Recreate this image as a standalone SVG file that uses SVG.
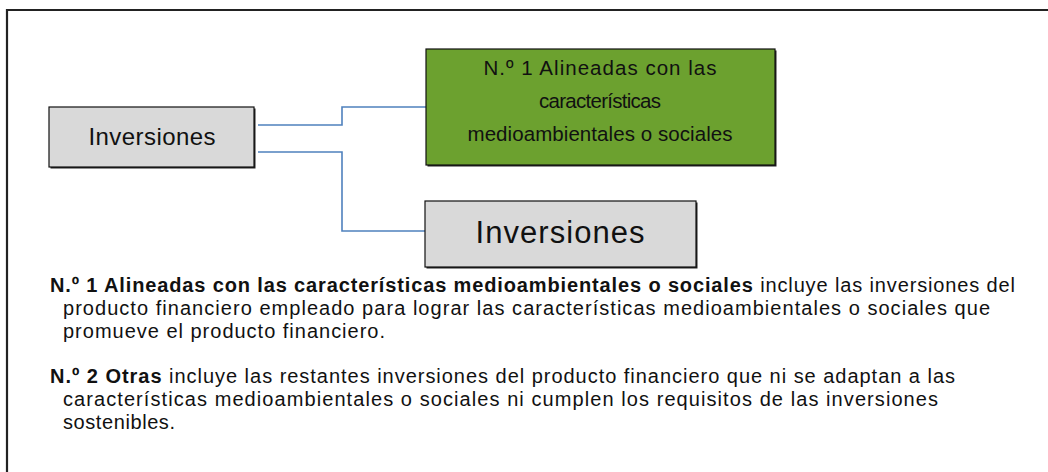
<svg xmlns="http://www.w3.org/2000/svg" width="1048" height="472" viewBox="0 0 1048 472">
<style>
.t{font-family:"Liberation Sans",Arial,sans-serif;fill:#111}
.p{font-size:20px}
.b{font-weight:bold}
.box{stroke:#111;stroke-width:1.2}
.sh{fill:#222}
.con{fill:none;stroke:#4f81bd;stroke-width:1.6}
</style>
<rect x="0" y="0" width="1048" height="472" fill="#fff"/>
<path d="M7 472 V10 H1048" fill="none" stroke="#222" stroke-width="2.2"/>
<g id="connectors">
<path class="con" d="M258 125 H342 V107 H426"/>
<path class="con" d="M258 152 H342 V231 H425"/>
</g>
<g id="node-inversiones">
<rect class="sh" x="50.5" y="108.5" width="205" height="60"/>
<rect class="box" x="49" y="107" width="205" height="60" fill="#d9d9d9"/>
<text class="t" x="152" y="145" font-size="24" text-anchor="middle" textLength="127">Inversiones</text>
</g>
<g id="node-alineadas">
<rect class="sh" x="427.5" y="50.5" width="349" height="116"/>
<rect class="box" x="426" y="49" width="349" height="116" fill="#6ca12f" stroke="#2e4a14"/>
<text class="t" x="600" y="75" font-size="20.5" text-anchor="middle" textLength="233">N.º 1 Alineadas con las</text>
<text class="t" x="600" y="108" font-size="20.5" text-anchor="middle" textLength="122">características</text>
<text class="t" x="600" y="141" font-size="20.5" text-anchor="middle" textLength="265">medioambientales o sociales</text>
</g>
<g id="node-otras">
<rect class="sh" x="426.5" y="202.5" width="271" height="66"/>
<rect class="box" x="425" y="201" width="271" height="66" fill="#d9d9d9"/>
<text class="t" x="560" y="243" font-size="31" text-anchor="middle" textLength="169">Inversiones</text>
</g>
<g id="legend">
<text class="t p" x="50" y="292" textLength="965"><tspan class="b">N.º 1 Alineadas con las características medioambientales o sociales</tspan> incluye las inversiones del</text>
<text class="t p" x="63" y="315" textLength="927">producto financiero empleado para lograr las características medioambientales o sociales que</text>
<text class="t p" x="63" y="338" textLength="322">promueve el producto financiero.</text>
<text class="t p" x="50" y="383" textLength="905"><tspan class="b">N.º 2 Otras</tspan> incluye las restantes inversiones del producto financiero que ni se adaptan a las</text>
<text class="t p" x="63" y="406" textLength="875">características medioambientales o sociales ni cumplen los requisitos de las inversiones</text>
<text class="t p" x="63" y="429" textLength="112">sostenibles.</text>
</g>
</svg>
